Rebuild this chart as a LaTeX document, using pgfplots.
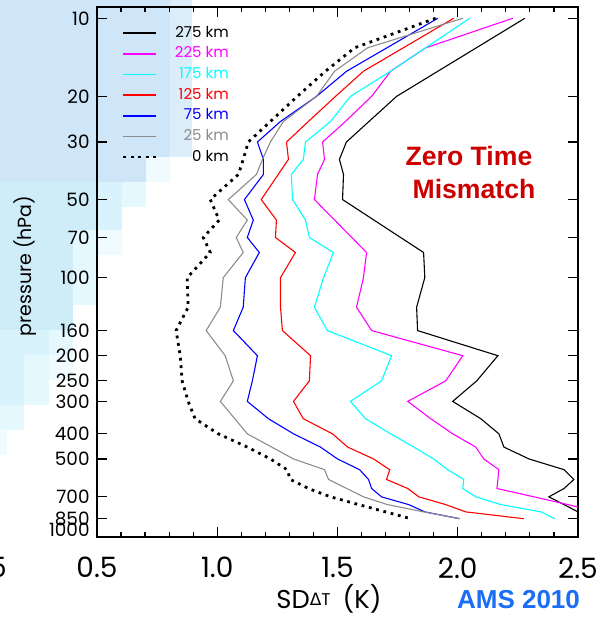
\documentclass[border=0pt]{standalone}
\usepackage{pgfplots}
\pgfplotsset{compat=1.18}
\usepackage{fontspec}
\setmainfont{Poppins}
\newfontfamily\arial{Liberation Sans}
\newfontfamily\greek{DejaVu Sans}

\definecolor{cgray}{RGB}{140,140,140}
\definecolor{cmag}{RGB}{255,0,255}
\definecolor{ccyan}{RGB}{0,255,255}
\definecolor{cred}{RGB}{255,0,0}
\definecolor{cblue}{RGB}{0,0,255}
\definecolor{zerored}{RGB}{204,0,0}
\definecolor{amsblue}{RGB}{25,110,245}
\definecolor{bgA}{RGB}{207,230,248}
\definecolor{bgB}{RGB}{220,237,250}
\definecolor{bgC}{RGB}{207,236,249}
\definecolor{bgD}{RGB}{216,243,251}
\definecolor{bgE}{RGB}{229,248,253}
\definecolor{bgF}{RGB}{239,251,254}

\begin{document}
\begin{tikzpicture}
% faded slide background, upper left
\begin{scope}[x=0.5pt,y=-0.5pt]
\fill[bgA] (0,0) rectangle (170,157);
\fill[bgB] (170,0) rectangle (192,157);
\fill[bgA] (0,157) rectangle (146,182);
\fill[bgF] (146,157) rectangle (170,182);
\fill[bgC] (0,182) rectangle (97,230);
\fill[bgD] (97,182) rectangle (122,230);
\fill[bgE] (122,182) rectangle (146,207);
\fill[bgC] (0,230) rectangle (73,330);
\fill[bgE] (73,230) rectangle (97,305);
\fill[bgF] (97,230) rectangle (122,255);
\fill[bgD] (0,330) rectangle (49,355);
\fill[bgE] (49,330) rectangle (73,355);
\fill[bgD] (0,355) rectangle (24,405);
\fill[bgE] (24,355) rectangle (49,405);
\fill[bgF] (49,355) rectangle (73,380);
\fill[bgE] (0,405) rectangle (24,430);
\fill[bgF] (0,430) rectangle (7,455);
\end{scope}

\begin{axis}[
  at={(48.5pt,-268.5pt)}, anchor=south west,
  width=240.5pt, height=265pt, scale only axis,
  xmin=0.5, xmax=2.5,
  ymode=log, ymin=9.05, ymax=1000, y dir=reverse,
  xtick={0.5,1,1.5,2,2.5},
  xticklabels={0.5,1.0,1.5,2.0,2.5},
  minor x tick num=4,
  ytick={10,20,30,50,70,100,160,200,250,300,400,500,700,850,1000},
  yticklabels={10,20,30,50,70,100,160,200,250,300,400,500,700,850,\raisebox{7pt}{1000}},
  yminorticks=false,
  major tick length=5pt, minor tick length=2.5pt,
  xtick pos=both, ytick pos=both,
  xticklabel pos=lower, yticklabel pos=left,
  tick style={black,line width=0.6pt},
  axis line style={black,line width=0.7pt},
  xticklabel style={font=\fontsize{14}{14}\selectfont,inner sep=0pt,yshift=-10pt},
  yticklabel style={font=\fontsize{9.2}{9.2}\selectfont,inner sep=0pt,xshift=-3.5pt},
  legend cell align=right,
  legend image code/.code={\draw[line width=0.9pt,#1] (0pt,0pt) -- (16.5pt,0pt); \path[draw=none] (16.5pt,0pt) -- (25pt,0pt);},
  legend style={at={(rel axis cs:0,1)}, anchor=north west, xshift=12.5pt, yshift=-7.7pt,
    draw=none, fill=none, inner sep=0pt, row sep=0pt,
    font=\fontsize{7.5}{7.5}\selectfont,
    nodes={inner sep=0pt, minimum height=10.33pt}},
  every axis plot/.append style={line width=0.55pt},
]
% 275 km
\addplot[black] coordinates {
 (2.279,10) (1.746,20) (1.537,30) (1.508,35) (1.525,40) (1.521,50) (1.858,80)
 (1.863,100) (1.829,130) (1.833,160) (2.167,200) (2.079,250) (1.979,300)
 (2.096,350) (2.171,400) (2.192,450) (2.296,500) (2.442,550) (2.483,600)
 (2.442,650) (2.379,700) (2.442,750) (2.500,800) (2.560,850)};
\addlegendentry{\textcolor{black}{275 km}}
% 225 km
\addplot[cmag] coordinates {
 (2.229,10) (1.867,13) (1.721,16) (1.642,20) (1.533,25) (1.438,30) (1.446,35)
 (1.417,40) (1.404,50) (1.621,80) (1.608,100) (1.579,130) (1.642,160)
 (2.021,200) (1.950,250) (1.792,300) (1.888,350) (1.979,400) (2.075,450)
 (2.108,500) (2.171,550) (2.167,600) (2.163,650) (2.317,700) (2.458,750)
 (2.580,800) (2.660,850)};
\addlegendentry{\textcolor{cmag}{225 km}}
% 175 km
\addplot[ccyan] coordinates {
 (2.050,10) (1.721,16) (1.554,20) (1.471,25) (1.367,30) (1.358,35) (1.308,40)
 (1.313,50) (1.367,60) (1.383,70) (1.483,80) (1.442,100) (1.404,130)
 (1.458,160) (1.725,200) (1.683,250) (1.554,300) (1.617,350) (1.721,400)
 (1.817,450) (1.900,500) (1.958,550) (2.025,600) (2.021,650) (2.075,700)
 (2.179,750) (2.346,800) (2.404,850)};
\addlegendentry{\textcolor{ccyan}{175 km}}
% 125 km
\addplot[cred] coordinates {
 (1.983,10) (1.608,16) (1.492,20) (1.379,25) (1.288,30) (1.296,35) (1.183,50)
 (1.246,60) (1.242,70) (1.325,80) (1.263,100) (1.263,130) (1.271,160)
 (1.388,200) (1.383,250) (1.317,300) (1.358,350) (1.479,400) (1.542,450)
 (1.650,500) (1.717,550) (1.704,600) (1.792,650) (1.838,700) (1.950,750)
 (2.033,800) (2.275,850)};
\addlegendentry{\textcolor{cred}{125 km}}
% 75 km
\addplot[cblue] coordinates {
 (1.917,10) (1.538,16) (1.413,20) (1.263,25) (1.167,30) (1.192,35) (1.192,40)
 (1.113,50) (1.150,60) (1.125,70) (1.175,80) (1.117,100) (1.108,130)
 (1.067,160) (1.167,200) (1.146,250) (1.125,300) (1.213,350) (1.317,400)
 (1.429,450) (1.500,500) (1.592,550) (1.629,600) (1.642,650) (1.683,700)
 (1.796,750) (1.863,800) (2.008,850)};
\addlegendentry{\textcolor{cblue}{\phantom{0}75 km}}
% 25 km
\addplot[cgray] coordinates {
 (2.021,10) (1.625,13) (1.488,16) (1.413,20) (1.275,25) (1.221,30) (1.188,35)
 (1.163,40) (1.046,50) (1.125,60) (1.079,70) (1.108,80) (1.025,100)
 (1.013,130) (0.954,160) (1.033,200) (1.067,250) (1.013,300) (1.125,400)
 (1.317,500) (1.446,550) (1.463,600) (1.608,700) (1.708,750) (1.858,800)
 (2.008,850)};
\addlegendentry{\textcolor{cgray}{\phantom{0}25 km}}
% 0 km
\addplot[black,line width=1.4pt,dash pattern=on 1.4pt off 2.35pt] coordinates {
 (1.908,10) (1.571,13) (1.450,16) (1.333,20) (1.221,25) (1.129,30) (1.108,35)
 (1.088,40) (0.971,50) (1.008,60) (0.942,70) (0.971,80) (0.875,100)
 (0.879,130) (0.829,160) (0.846,200) (0.854,250) (0.879,300) (0.908,350)
 (1.004,400) (1.125,450) (1.221,500) (1.290,550) (1.304,600) (1.379,650)
 (1.471,700) (1.588,750) (1.700,800) (1.804,850)};
\addlegendentry{\textcolor{black}{\phantom{00}0 km}}
\end{axis}

\begin{scope}[x=0.5pt,y=-0.5pt]
\node[rotate=90,anchor=base,font=\fontsize{9.5}{9.5}\selectfont] at (31.7,266) {pressure (hPa)};
\node[anchor=base,font=\fontsize{12.9}{12.9}\selectfont] at (329,608)
  {SD{\fontsize{8.5}{8.5}\selectfont\raisebox{1.2pt}{{\greek Δ}T}}\hspace{6pt}(K)};
\node[anchor=base east,inner sep=0pt,font=\fontsize{14}{14}\selectfont] at (7,577) {5};
\node[anchor=base,text=zerored,font=\arial\bfseries\fontsize{13.3}{14}\selectfont] at (469,165) {Zero Time};
\node[anchor=base,text=zerored,font=\arial\bfseries\fontsize{13.3}{14}\selectfont] at (474,198) {Mismatch};
\node[anchor=base,text=amsblue,font=\arial\bfseries\fontsize{13}{14}\selectfont] at (518.5,608) {AMS 2010};
\end{scope}

\pgfresetboundingbox
\path[use as bounding box] (0,0) rectangle (306.5pt,-309pt);
\end{tikzpicture}
\end{document}
